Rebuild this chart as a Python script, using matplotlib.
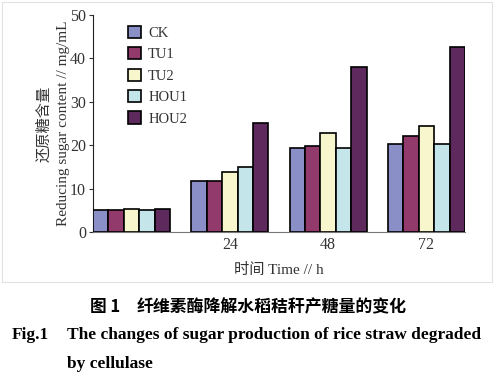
import numpy as np
import matplotlib.pyplot as plt
from matplotlib.patches import Rectangle

plt.rcParams['font.family'] = ['Liberation Serif', 'Noto Sans CJK SC', 'DejaVu Sans']

# data
times = ["0", "24", "48", "72"]
tick_labels = ["", "24", "48", "72"]
ck = [5.0, 11.7, 19.4, 20.2]
tu1 = [5.0, 11.7, 19.8, 22.2]
tu2 = [5.3, 13.9, 22.9, 24.5]
hou1 = [5.0, 14.9, 19.4, 20.2]
hou2 = [5.3, 25.1, 38.1, 42.7]

names = ["CK", "TU1", "TU2", "HOU1", "HOU2"]
series = [ck, tu1, tu2, hou1, hou2]
colors = ["#8a8fc8", "#923a6c", "#f8f6cc", "#c4e6ea", "#5e2a5e"]

fig = plt.figure(figsize=(5, 3.84), dpi=100)
ax = fig.add_axes([0.186, 0.396, 0.744, 0.565])

x = np.arange(len(times))
w = 0.157
for i, (name, vals) in enumerate(zip(names, series)):
    ax.bar(x + (i - 2) * w, vals, w, color=colors[i], edgecolor="black",
           linewidth=1.2, label=name, zorder=3)

ax.set_xlim(-2.5 * w, 3 + 2.5 * w)
ax.set_ylim(0, 50)
ax.set_yticks([0, 10, 20, 30, 40, 50])
ax.set_xticks(x)
ax.set_xticklabels(tick_labels)
ax.tick_params(axis="y", direction="out", length=3, labelsize=11.5, colors="#333333", pad=2)
ax.tick_params(axis="x", length=0, labelsize=11.5, colors="#333333", pad=4)
for s in ["top", "right"]:
    ax.spines[s].set_visible(False)
ax.spines["left"].set_color("#222222")
ax.spines["bottom"].set_color("#777777")

ax.set_ylabel("还原糖含量\nReducing sugar content // mg/mL", fontsize=11,
              color="#333333", linespacing=1.6, labelpad=0)
ax.set_xlabel("时间 Time // h", fontsize=11, color="#333333", labelpad=7)

leg = ax.legend(loc="upper left", bbox_to_anchor=(0.058, 1.01), frameon=False,
                fontsize=10.5, handlelength=0.9, handleheight=0.9,
                labelspacing=0.5, handletextpad=0.5)
for t in leg.get_texts():
    t.set_color("#333333")

# faint frame around the chart area
fig.patches.append(Rectangle((0.004, 0.266), 0.98, 0.73, transform=fig.transFigure,
                             fill=False, edgecolor="#e2e2e2", linewidth=0.8))

fig.text(0.18, 0.2, "图 1", fontsize=12, weight="bold", family=["Noto Sans CJK SC"], va="center")
fig.text(0.274, 0.2, "纤维素酶降解水稻秸秆产糖量的变化", fontsize=12.2, weight="bold",
         family=["Noto Sans CJK SC"], va="center")
fig.text(0.024, 0.128, "Fig.1", fontsize=12.5, weight="bold", va="center")
fig.text(0.134, 0.128, "The changes of sugar production of rice straw degraded",
         fontsize=12.5, weight="bold", va="center")
fig.text(0.134, 0.052, "by cellulase", fontsize=12.5, weight="bold", va="center")

fig.savefig("out.png", dpi=100)
